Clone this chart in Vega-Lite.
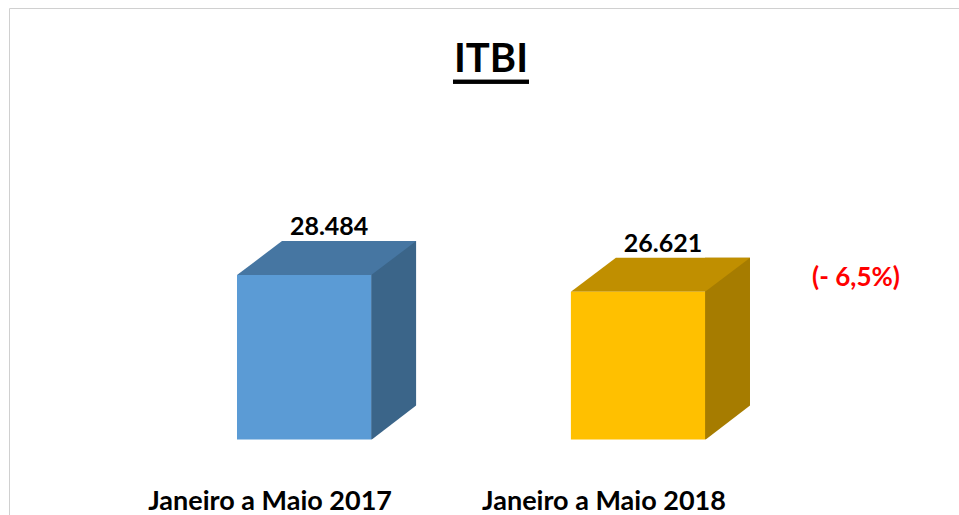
{
  "$schema": "https://vega.github.io/schema/vega-lite/v6.json",
  "width": 960,
  "height": 515,
  "autosize": "none",
  "padding": {"left": 9, "top": 8, "right": 0, "bottom": 0},
  "background": "white",
  "title": {
    "text": "ITBI",
    "font": "Lato",
    "fontSize": 40,
    "fontWeight": "bold",
    "color": "#000000",
    "anchor": "middle",
    "dx": 2,
    "offset": -72
  },
  "data": {
    "values": [
      {"periodo": "Janeiro a Maio 2017", "valor": 28484, "variacao": null},
      {"periodo": "Janeiro a Maio 2018", "valor": 26621, "variacao": "(- 6,5%)"}
    ]
  },
  "encoding": {
    "x": {
      "field": "periodo",
      "type": "nominal",
      "sort": null,
      "title": null,
      "scale": {"paddingInner": 0.5981, "paddingOuter": 0.7366, "align": 0.4635},
      "axis": {
        "domain": false,
        "ticks": false,
        "tickSize": 0,
        "labelAngle": 0,
        "labelFont": "Lato",
        "labelFontSize": 27,
        "labelFontWeight": "bold",
        "labelColor": "#000000",
        "labelOffset": -34,
        "labelPadding": -14,
        "labelBaseline": "alphabetic",
        "labelLimit": 0,
        "labelOverlap": false
      }
    }
  },
  "layer": [
    {
      "mark": {"type": "bar", "width": 45, "xOffset": 89.5, "yOffset": -34, "stroke": null},
      "encoding": {
        "y": {"field": "valor", "type": "quantitative", "scale": {"domain": [870, 58220], "zero": false, "nice": false}, "axis": null},
        "y2": {"datum": 10170},
        "color": {"condition": {"test": "datum.periodo === 'Janeiro a Maio 2017'", "value": "#3B6589"}, "value": "#A67C00"}
      }
    },
    {
      "mark": {"type": "point", "shape": "M-67.1,0L67.1,0L112.1,-34L-22.1,-34Z", "size": 4, "filled": true, "opacity": 1, "strokeWidth": 0},
      "encoding": {
        "y": {"field": "valor", "type": "quantitative"},
        "color": {"condition": {"test": "datum.periodo === 'Janeiro a Maio 2017'", "value": "#4676A2"}, "value": "#C08F00"}
      }
    },
    {
      "mark": {"type": "point", "shape": "M67.1,0.5L113,-34.7L113,2L67.1,2Z", "size": 4, "filled": true, "opacity": 1, "strokeWidth": 0, "color": "white"},
      "encoding": {
        "y": {"datum": 10170}
      }
    },
    {
      "mark": {"type": "bar"},
      "encoding": {
        "y": {"field": "valor", "type": "quantitative"},
        "y2": {"datum": 10170},
        "color": {"condition": {"test": "datum.periodo === 'Janeiro a Maio 2017'", "value": "#5B9BD5"}, "value": "#FFC000"}
      }
    },
    {
      "mark": {"type": "text", "font": "Lato", "fontSize": 25, "fontWeight": "bold", "color": "#000000", "baseline": "alphabetic", "align": "center", "dx": 25, "dy": -40},
      "encoding": {
        "y": {"field": "valor", "type": "quantitative"},
        "text": {"field": "valor", "type": "quantitative", "format": ",d"}
      }
    },
    {
      "transform": [{"filter": "datum.variacao != null"}],
      "mark": {"type": "text", "font": "Lato", "fontSize": 26, "fontWeight": "bold", "color": "#FF0000", "baseline": "alphabetic", "align": "center", "dx": 218, "dy": -6},
      "encoding": {
        "y": {"field": "valor", "type": "quantitative"},
        "text": {"field": "variacao", "type": "nominal"}
      }
    },
    {
      "mark": {"type": "rule", "strokeWidth": 4, "color": "#000000", "xOffset": 148.9, "x2Offset": -109},
      "encoding": {
        "x": {"datum": "Janeiro a Maio 2017"},
        "x2": {"datum": "Janeiro a Maio 2018"},
        "y": {"datum": 50000}
      }
    }
  ],
  "config": {
    "view": {"stroke": "#d0d0d0", "strokeWidth": 1},
    "locale": {"number": {"decimal": ",", "thousands": ".", "grouping": [3], "currency": ["R$", ""]}}
  }
}
